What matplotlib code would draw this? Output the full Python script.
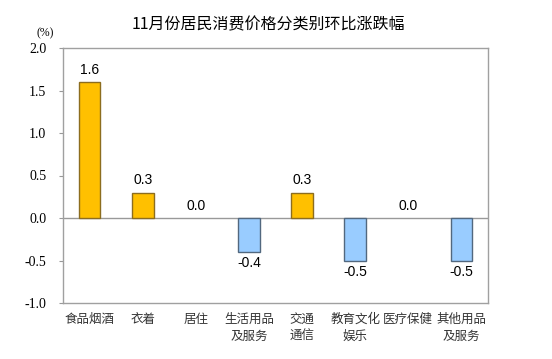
import matplotlib.pyplot as plt
import numpy as np

plt.rcParams['font.family'] = ['Noto Sans CJK SC', 'DejaVu Sans']

# categories and month-on-month change (%)
categories = ['食品烟酒', '衣着', '居住', '生活用品\n及服务', '交通\n通信',
              '教育文化\n娱乐', '医疗保健', '其他用品\n及服务']
values = [1.6, 0.3, 0.0, -0.4, 0.3, -0.5, 0.0, -0.5]
yticks = [-1.0, -0.5, 0.0, 0.5, 1.0, 1.5, 2.0]

fig = plt.figure(figsize=(5.52, 3.59), dpi=100)
ax = fig.add_axes([63/552, 1 - 303/359, 425/552, 255/359])

x = np.arange(len(values))
pos_c, pos_e = '#FFC000', '#8C6D1F'
neg_c, neg_e = '#99CCFF', '#52687F'
for xi, v in zip(x, values):
    if v == 0:
        continue
    if v > 0:
        ax.bar(xi, v, width=0.41, color=pos_c, edgecolor=pos_e, lw=1, zorder=3)
    else:
        ax.bar(xi, v, width=0.41, color=neg_c, edgecolor=neg_e, lw=1, zorder=3)

for xi, v in zip(x, values):
    if v >= 0:
        ax.text(xi, v + 0.06, f'{v:.1f}', ha='center', va='bottom',
                fontsize=10, family='Liberation Sans')
    else:
        ax.text(xi, v - 0.05, f'{v:.1f}', ha='center', va='top',
                fontsize=10, family='Liberation Sans')

ax.axhline(0, color='#999999', lw=1, zorder=2)
ax.set_xlim(-0.5, len(values) - 0.5)
ax.set_ylim(-1.0, 2.0)
ax.set_yticks(yticks)
ax.set_yticklabels([f'{t:.1f}' for t in yticks], family='Liberation Serif', fontsize=10)
ax.set_xticks(x)
ax.set_xticklabels(categories, fontsize=9, color='#333333', linespacing=1.45)
ax.tick_params(axis='x', length=0, pad=7)
ax.tick_params(axis='y', length=3, color='#999999', pad=9)
for s in ax.spines.values():
    s.set_color('#A0A0A0')
    s.set_linewidth(1)

fig.text(268/552, 1 - 25/359, '11月份居民消费价格分类别环比涨跌幅',
         ha='center', va='center', fontsize=11.5)
fig.text(45/552, 1 - 33/359, '(%)', ha='center', va='center',
         family='Liberation Serif', fontsize=8.5)

fig.savefig('out.png', dpi=100)
